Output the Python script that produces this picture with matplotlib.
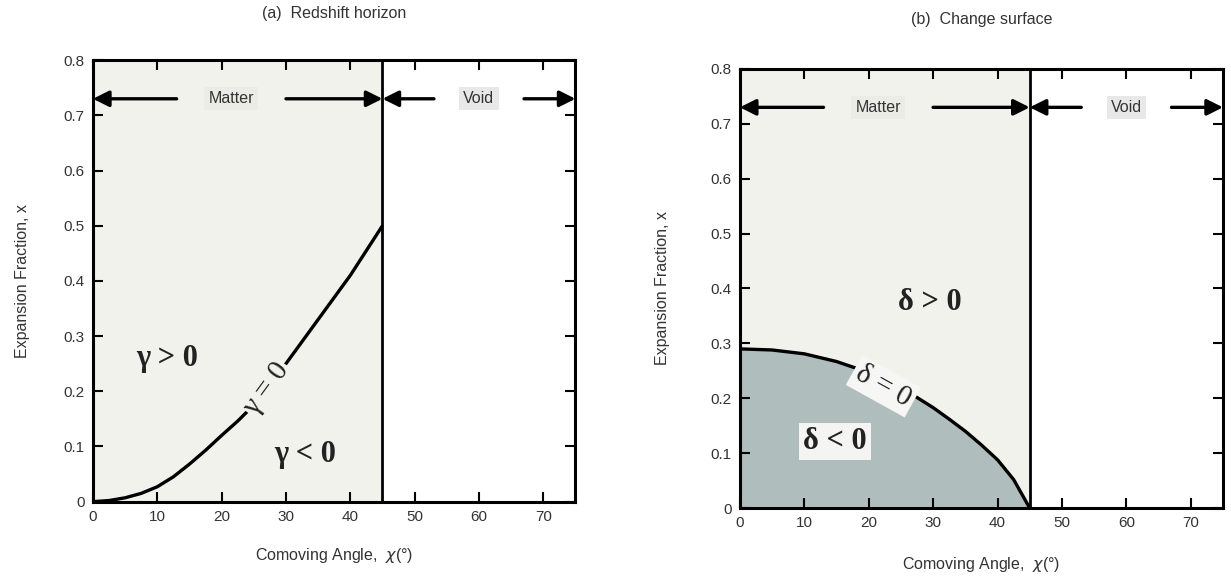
import matplotlib
matplotlib.use("Agg")
import matplotlib.pyplot as plt
import numpy as np

# ---- data ----
gamma_x = [0, 2.5, 5, 7.5, 10, 12.5, 15, 17.5, 20, 22.5, 25, 27.5, 30, 32.5, 35, 37.5, 40, 42.5, 45]
gamma_y = [0, 0.002, 0.007, 0.015, 0.027, 0.045, 0.068, 0.093, 0.12, 0.146, 0.175, 0.21, 0.25,
           0.29, 0.33, 0.37, 0.41, 0.455, 0.50]

delta_x = [0, 5, 10, 15, 20, 25, 30, 32.5, 35, 37.5, 40, 42.5, 45]
delta_y = [0.29, 0.288, 0.281, 0.267, 0.247, 0.22, 0.183, 0.162, 0.14, 0.115, 0.088, 0.052, 0.0]

x_ticks = [0, 10, 20, 30, 40, 50, 60, 70]
y_ticks = [0, 0.1, 0.2, 0.3, 0.4, 0.5, 0.6, 0.7, 0.8]
y_ticklabels = ["0", "0.1", "0.2", "0.3", "0.4", "0.5", "0.6", "0.7", "0.8"]
boundary = 45
xmax = 75
ymax = 0.8
titles = ["(a)  Redshift horizon", "(b)  Change surface"]
xlabel = "Comoving Angle,  $\\chi$(°)"
ylabel = "Expansion Fraction, x"

MATTER = "#f2f2ec"
GRAY = "#afbdbd"
TXT = "#333333"

plt.rcParams['font.family'] = ['Liberation Sans', 'DejaVu Sans']

fig = plt.figure(figsize=(12.31, 5.84), dpi=100)
axA = fig.add_axes([0.0755, 0.141, 0.392, 0.756])
axB = fig.add_axes([0.601, 0.130, 0.3925, 0.752])

serif = ['Liberation Serif', 'DejaVu Serif']


def setup(ax, title, tpad, ylpad, xlpad):
    ax.set_xlim(0, xmax)
    ax.set_ylim(0, ymax)
    ax.axvspan(0, boundary, color=MATTER, zorder=0, lw=0)
    ax.axvline(boundary, color='black', lw=2.0, zorder=3)
    ax.set_xticks(x_ticks)
    ax.set_yticks(y_ticks)
    ax.set_yticklabels(y_ticklabels)
    ax.tick_params(direction='in', length=7, width=1.5, top=True, right=True,
                   labelsize=11, colors='black', labelcolor=TXT, pad=6)
    for s in ax.spines.values():
        s.set_linewidth(2.2)
    ax.set_xlabel(xlabel, fontsize=11.5, color=TXT, labelpad=xlpad)
    ax.set_ylabel(ylabel, fontsize=11.5, color=TXT, labelpad=ylpad)
    ax.set_title(title, fontsize=11.5, color=TXT, pad=tpad)
    # arrows
    ya = 0.73
    ap = dict(arrowstyle='-|>', lw=2.4, color='black', mutation_scale=24,
              shrinkA=0, shrinkB=0)
    ax.annotate("", xy=(0, ya), xytext=(13, ya), arrowprops=ap, zorder=4)
    ax.annotate("", xy=(boundary, ya), xytext=(30, ya), arrowprops=ap, zorder=4)
    ax.annotate("", xy=(boundary, ya), xytext=(53, ya), arrowprops=ap, zorder=4)
    ax.annotate("", xy=(xmax, ya), xytext=(67, ya), arrowprops=ap, zorder=4)
    ax.text(21.5, ya, "Matter", ha='center', va='center', fontsize=11.5, color=TXT,
            bbox=dict(facecolor='#ececE6', edgecolor='none', pad=3))
    ax.text(60, ya, "Void", ha='center', va='center', fontsize=11.5, color=TXT,
            bbox=dict(facecolor='#e8e8e8', edgecolor='none', pad=3))


setup(axA, titles[0], 30, 24, 16)
setup(axB, titles[1], 32, 29, 18)

# panel a
axA.plot(gamma_x, gamma_y, color='black', lw=2.4, zorder=2, solid_capstyle='butt')
axA.text(27, 0.205, "γ = 0", rotation=54, ha='center', va='center',
         fontsize=21, family=serif, color='#222222', zorder=3,
         bbox=dict(facecolor=MATTER, edgecolor='none', pad=1))
axA.text(11.5, 0.26, "γ > 0", ha='center', va='center', fontsize=22,
         family=serif, weight='bold', color='#222222')
axA.text(33, 0.085, "γ < 0", ha='center', va='center', fontsize=22,
         family=serif, weight='bold', color='#222222')

# panel b
axB.fill_between(delta_x, 0, delta_y, color=GRAY, lw=0, zorder=1)
axB.plot(delta_x, delta_y, color='black', lw=2.4, zorder=2)
axB.text(22.3, 0.222, "δ = 0", rotation=-29, ha='center', va='center',
         fontsize=21, family=serif, color='#222222', zorder=3,
         bbox=dict(facecolor='#f6f6f4', edgecolor='none', pad=3))
axB.text(29.5, 0.375, "δ > 0", ha='center', va='center', fontsize=22,
         family=serif, weight='bold', color='#222222')
axB.text(14.8, 0.121, "δ < 0", ha='center', va='center', fontsize=22,
         family=serif, weight='bold', color='#222222',
         bbox=dict(facecolor='#f4f4f2', edgecolor='none', pad=3))

fig.savefig("out.png", dpi=100)
